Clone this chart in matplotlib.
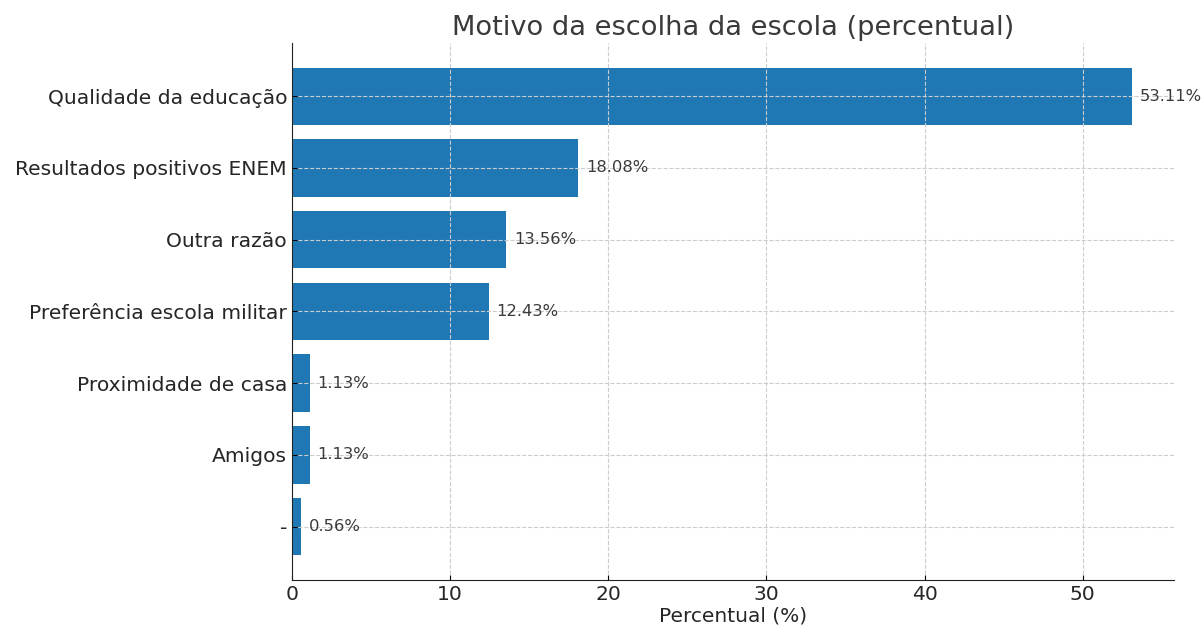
import matplotlib.pyplot as plt

motivos = ["Qualidade da educação", "Resultados positivos ENEM", "Outra razão",
           "Preferência escola militar", "Proximidade de casa", "Amigos", "-"]
percentuais = [53.11, 18.08, 13.56, 12.43, 1.13, 1.13, 0.56]

fig, ax = plt.subplots(figsize=(12.04, 6.26), dpi=100)
fig.subplots_adjust(left=0.2425, right=0.975, top=0.931, bottom=0.074)

bars = ax.barh(motivos, percentuais, height=0.8, color="#1f77b4", zorder=1)
ax.invert_yaxis()

for b, v in zip(bars, percentuais):
    ax.text(b.get_width() + 0.5, b.get_y() + b.get_height() / 2, f"{v:.2f}%",
            va="center", ha="left", fontsize=11.8, color="#3a3a3a")

ax.grid(True, linestyle="--", color="#cccccc", linewidth=0.8, zorder=2)
ax.set_axisbelow(False)
for s in ["top", "right"]:
    ax.spines[s].set_visible(False)
for s in ["left", "bottom"]:
    ax.spines[s].set_color("#222222")
    ax.spines[s].set_zorder(5)
ax.tick_params(axis="both", direction="in", labelsize=14.6, labelcolor="#262626")

ax.set_title("Motivo da escolha da escola (percentual)", fontsize=19.6, color="#3a3a3a")
ax.set_xlabel("Percentual (%)", fontsize=14.5, color="#262626", labelpad=2)

plt.savefig("out.png")
